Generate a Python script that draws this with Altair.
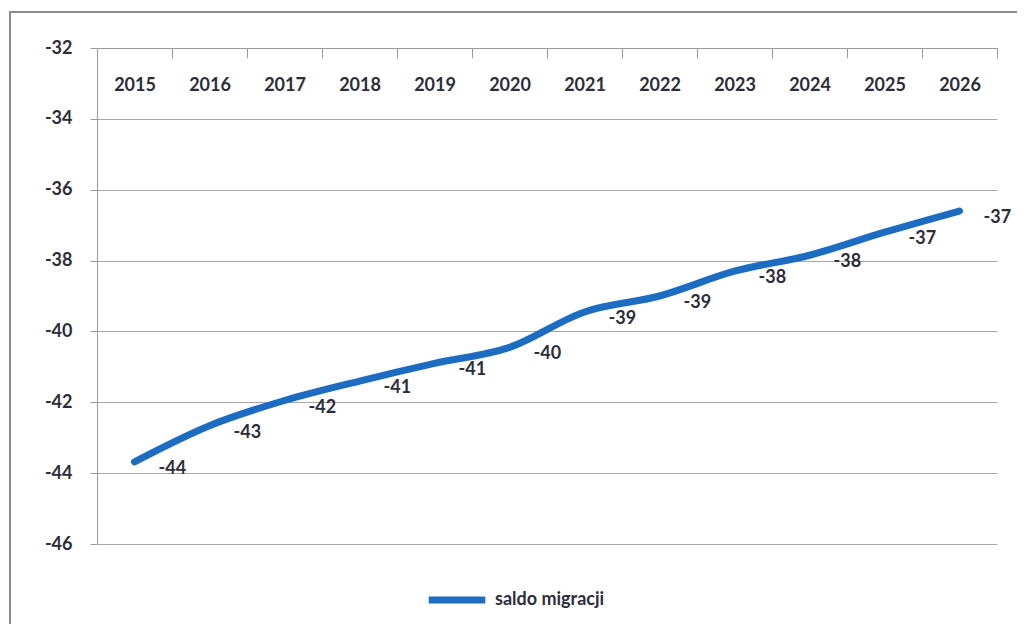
import altair as alt
import pandas as pd

years = ["2015", "2016", "2017", "2018", "2019", "2020",
         "2021", "2022", "2023", "2024", "2025", "2026"]
values = [-43.68, -42.66, -41.95, -41.4, -40.9, -40.45,
          -39.45, -39.0, -38.3, -37.85, -37.2, -36.6]
labels = ["-44", "-43", "-42", "-41", "-41", "-40",
          "-39", "-39", "-38", "-38", "-37", "-37"]
series = "saldo migracji"

df = pd.DataFrame({"rok": years, "wartosc": values, "etykieta": labels, "seria": series})

FONT = "Lato"
TXT = "#2d2d3a"
W, H = 900, 496

x_enc = alt.X("rok:N", sort=years, title=None,
              scale=alt.Scale(type="band", paddingInner=0, paddingOuter=0),
              axis=alt.Axis(orient="bottom", offset=-H, labelAngle=0, tickBand="extent",
                            grid=False, domainColor="#9a9a9a", tickColor="#9a9a9a",
                            tickSize=10, labelPadding=18, labelFont=FONT,
                            labelFontSize=18, labelFontWeight="bold", labelColor=TXT))
y_enc = alt.Y("wartosc:Q", title=None,
              scale=alt.Scale(domain=[-46, -32], nice=False, zero=False),
              axis=alt.Axis(values=list(range(-46, -31, 2)), grid=True, gridColor="#a8a8a8",
                            labelExpr="toString(datum.value)",
                            domainColor="#9a9a9a", tickColor="#9a9a9a", tickSize=7,
                            labelPadding=18, labelFont=FONT, labelFontSize=18,
                            labelFontWeight="bold", labelColor=TXT))

frame = alt.Chart(df).mark_rect(fill=None, stroke="#8c8c8c", strokeWidth=2).encode(
    x=alt.value(-87), x2=alt.value(W + 32), y=alt.value(-36), y2=alt.value(H + 84)
)

line = alt.Chart(df).mark_line(strokeWidth=7, interpolate="monotone", strokeCap="round").encode(
    x=x_enc, y=y_enc,
    color=alt.Color("seria:N", scale=alt.Scale(range=["#1c6cc2"]),
                    legend=alt.Legend(title=None, orient="none", legendX=328, legendY=520,
                                      symbolType="stroke", symbolStrokeWidth=7,
                                      symbolSize=3200, labelFont=FONT, labelFontSize=18,
                                      labelFontWeight="bold", labelColor=TXT, labelOffset=6))
)

text = alt.Chart(df).mark_text(align="left", baseline="middle", dx=24, dy=7,
                               font=FONT, fontSize=18, fontWeight="bold", color=TXT).encode(
    x=alt.X("rok:N", sort=years), y="wartosc:Q", text="etykieta:N"
)

chart = alt.layer(frame, line, text).properties(
    width=W, height=H,
    autosize=alt.AutoSizeParams(type="none"),
    padding={"left": 89, "top": 40, "right": 20, "bottom": 80},
).configure_view(stroke=None)

chart.save("out.html", embed_options={"renderer": "svg", "actions": False})
